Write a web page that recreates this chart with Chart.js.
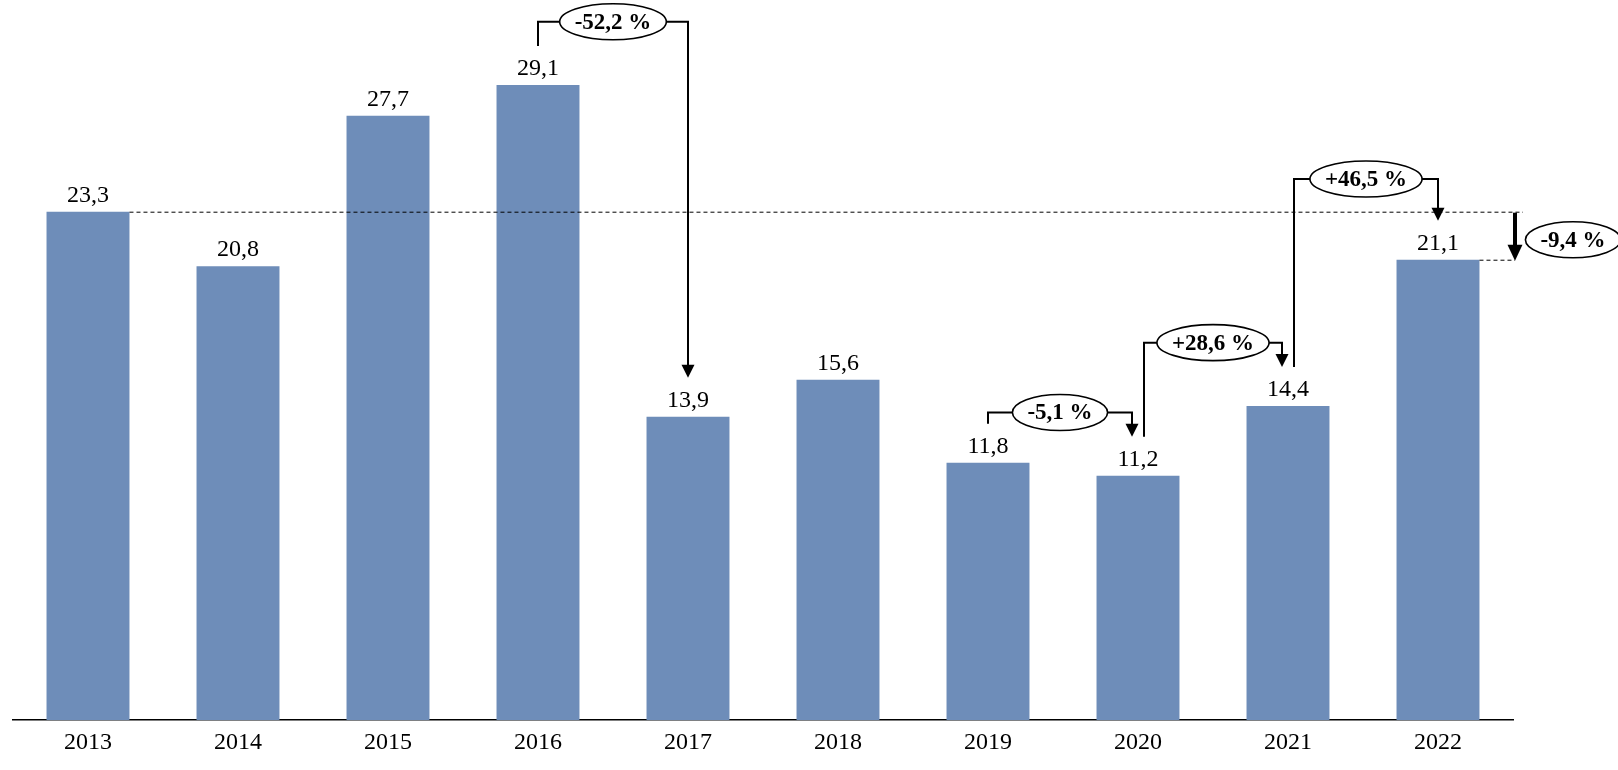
<!DOCTYPE html>
<html>
<head>
<meta charset="utf-8">
<script src="https://cdn.jsdelivr.net/npm/chart.js@4.4.1/dist/chart.umd.min.js"></script>
<style>
    html, body { margin: 0; padding: 0; background: #ffffff; }
    #wrap { width: 1618px; height: 770px; position: relative; }
</style>
</head>
<body>
<div id="wrap"><canvas id="chart"></canvas></div>
<script>
// Chart data
const years = ['2013', '2014', '2015', '2016', '2017', '2018', '2019', '2020', '2021', '2022'];
const values = [23.3, 20.8, 27.7, 29.1, 13.9, 15.6, 11.8, 11.2, 14.4, 21.1];

// Change brackets: from index, to index, label, level of the horizontal line (in value units)
const changeFrom = [3, 6, 7, 8];
const changeTo = [4, 7, 8, 9];
const changeLabels = ['-52,2 %', '-5,1 %', '+28,6 %', '+46,5 %'];
const changeLevels = [32.0, 14.1, 17.3, 24.8];

// Overall change between first and last year
const totalLabel = '-9,4 %';

const BAR_COLOR = '#6e8db9';
const FONT = '"Liberation Serif", "Times New Roman", serif';

function fmt(v) {
    return v.toFixed(1).replace('.', ',');
}

function arrowHead(ctx, x, y, w, h) {
    ctx.beginPath();
    ctx.moveTo(x, y);
    ctx.lineTo(x - w / 2, y - h);
    ctx.lineTo(x + w / 2, y - h);
    ctx.closePath();
    ctx.fill();
}

function pill(ctx, cx, cy, text) {
    ctx.font = 'bold 23px ' + FONT;
    const tw = ctx.measureText(text).width;
    const rx = tw / 2 + 15;
    const ry = 18;
    ctx.beginPath();
    ctx.ellipse(cx, cy, rx, ry, 0, 0, Math.PI * 2);
    ctx.fillStyle = '#ffffff';
    ctx.fill();
    ctx.lineWidth = 1.6;
    ctx.strokeStyle = '#000000';
    ctx.stroke();
    ctx.fillStyle = '#000000';
    ctx.textAlign = 'center';
    ctx.textBaseline = 'middle';
    ctx.fillText(text, cx, cy + 1);
    return rx;
}

const annotationPlugin = {
    id: 'annotations',
    afterDatasetsDraw(chart) {
        const ctx = chart.ctx;
        const meta = chart.getDatasetMeta(0);
        const yScale = chart.scales.y;
        const area = chart.chartArea;
        const gap = 39;

        ctx.save();

        // value labels
        ctx.font = '24px ' + FONT;
        ctx.fillStyle = '#000000';
        ctx.textAlign = 'center';
        ctx.textBaseline = 'alphabetic';
        meta.data.forEach((bar, i) => {
            ctx.fillText(fmt(values[i]), bar.x, bar.y - 10);
        });

        // dashed reference lines for first and last year
        const first = meta.data[0];
        const last = meta.data[meta.data.length - 1];
        const rightX = area.right + 2;
        ctx.strokeStyle = '#000000';
        ctx.lineWidth = 1;
        ctx.setLineDash([4, 3]);
        ctx.beginPath();
        ctx.moveTo(first.x + first.width / 2, first.y + 0.5);
        ctx.lineTo(rightX + 8, first.y + 0.5);
        ctx.moveTo(last.x + last.width / 2, last.y + 0.5);
        ctx.lineTo(rightX, last.y + 0.5);
        ctx.stroke();
        ctx.setLineDash([]);

        // thick arrow showing total change
        ctx.lineWidth = 4;
        ctx.beginPath();
        ctx.moveTo(rightX, first.y + 1);
        ctx.lineTo(rightX, last.y - 14);
        ctx.stroke();
        ctx.fillStyle = '#000000';
        arrowHead(ctx, rightX, last.y + 1, 15, 16);
        pill(ctx, rightX + 58, (first.y + last.y) / 2 + 4, totalLabel);

        // change brackets
        const hasIn = new Set(changeTo);
        const hasOut = new Set(changeFrom);
        changeFrom.forEach((a, k) => {
            const b = changeTo[k];
            const barA = meta.data[a];
            const barB = meta.data[b];
            const xA = barA.x + (hasIn.has(a) ? 6 : 0);
            const xB = barB.x - (hasOut.has(b) ? 6 : 0);
            const yA = barA.y - gap;
            const yB = barB.y - gap;
            const yH = yScale.getPixelForValue(changeLevels[k]);

            ctx.strokeStyle = '#000000';
            ctx.lineWidth = 2;
            ctx.beginPath();
            ctx.moveTo(xA, yA);
            ctx.lineTo(xA, yH);
            ctx.lineTo(xB, yH);
            ctx.lineTo(xB, yB - 12);
            ctx.stroke();
            ctx.fillStyle = '#000000';
            arrowHead(ctx, xB, yB, 13, 13);

            pill(ctx, (xA + xB) / 2, yH, changeLabels[k]);
        });

        ctx.restore();
    }
};

document.addEventListener('DOMContentLoaded', function() {
    const canvas = document.getElementById('chart');
    new Chart(canvas, {
        type: 'bar',
        data: {
            labels: years,
            datasets: [{
                data: values,
                backgroundColor: BAR_COLOR,
                borderWidth: 0,
                barPercentage: 0.553,
                categoryPercentage: 1.0
            }]
        },
        options: {
            responsive: true,
            maintainAspectRatio: false,
            animation: false,
            events: [],
            layout: {
                padding: { left: 13, right: 105, top: 0, bottom: 5 }
            },
            plugins: {
                legend: { display: false },
                tooltip: { enabled: false }
            },
            scales: {
                x: {
                    grid: { display: false, drawTicks: false },
                    border: { display: true, color: '#000000', width: 1.5 },
                    ticks: {
                        color: '#000000',
                        padding: 8,
                        font: { family: FONT, size: 24 }
                    }
                },
                y: {
                    display: false,
                    min: 0,
                    max: 33
                }
            }
        },
        plugins: [annotationPlugin]
    });
});
</script>
</body>
</html>
